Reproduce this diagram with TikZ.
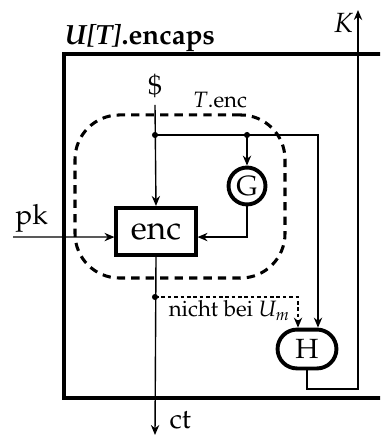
\documentclass[tikz,border=0pt]{standalone}
\usepackage[T1]{fontenc}
\usepackage{mathpazo}
\usetikzlibrary{arrows.meta, positioning, calc}

\begin{document}
\begin{tikzpicture}[
    x=0.36pt, y=-0.36pt,
    arr/.style={-{Stealth[length=3.6pt, width=3pt]}, line width=0.5pt},
    conn/.style={line width=0.5pt},
    blk/.style={draw, line width=1.4pt, inner sep=0pt},
    dot/.style={circle, fill, inner sep=0pt, minimum size=2.2pt},
    lbl/.style={font=\footnotesize, inner sep=0pt},
]
\useasboundingbox (0,0) rectangle (380,437);
\clip (0,0) rectangle (380,437);

% Outer box
\draw[line width=1.2pt] (420,54) -- (64,54) -- (64,398) -- (420,398);
\node[anchor=base west, inner sep=0pt, font=\bfseries] (title) at (64,45) {\textit{U[T]}.encaps};

% T.enc region
\node[draw, line width=1.1pt, dash pattern=on 3pt off 2.2pt, rounded corners=16pt,
      minimum width=75.6pt, minimum height=58.7pt] (tenc) at (180,196.5) {};
\node[lbl, anchor=base] (tenclbl) at (220,108) {$T$.enc};

% Blocks
\node[blk, minimum width=28.5pt, minimum height=17pt, font=\large] (enc) at (156,231.5) {enc};
\node[blk, circle, minimum size=13.3pt] (G) at (247,186) {G};
\node[blk, rounded corners=7pt, minimum width=21.2pt, minimum height=14pt] (H) at (307,349) {H};

% Inputs and outputs
\node[inner sep=0pt] (dollar) at (155,86) {\$};
\coordinate (dstart) at (155,105);
\coordinate (pkstart) at (13,237);
\node[anchor=base west, inner sep=0pt] (pk) at (15,225) {pk};
\coordinate (ctend) at (155,435);
\node[anchor=base west, inner sep=0pt] (ct) at (169,428) {ct};
\coordinate (kend) at (358,10);
\node[anchor=base east, inner sep=0pt] (K) at (354,33) {$K$};

% Junctions
\coordinate (j1) at (155,135);
\coordinate (j2) at (247,135);
\coordinate (hturn) at (318,135);
\coordinate (j3) at (155,297);
\coordinate (dturn) at (298,297);
\coordinate (kcorner) at (358,389);
\node[dot] (d1) at (j1) {};
\node[dot] (d2) at (j2) {};
\node[dot] (d3) at (j3) {};

% Arrows
\draw[arr] (dstart) -- (enc.north);
\draw[arr] (j2) -- (G.north);
\draw[arr] (j1) -- (hturn) -- (hturn |- H.north);
\draw[arr] (G.south) |- ([yshift=-2pt]enc.east);
\draw[arr] (pkstart) -- ([yshift=-2pt]enc.west);
\draw[arr] (enc.south) -- (ctend);
\draw[arr, dash pattern=on 1.3pt off 1pt] (j3) -- (dturn) -- (dturn |- H.north);
\node[lbl, anchor=base east] (nicht) at (291,317) {nicht bei $U_m$};
\draw[arr] (H.south) |- (kcorner) -- (kend);

\end{tikzpicture}
\end{document}
